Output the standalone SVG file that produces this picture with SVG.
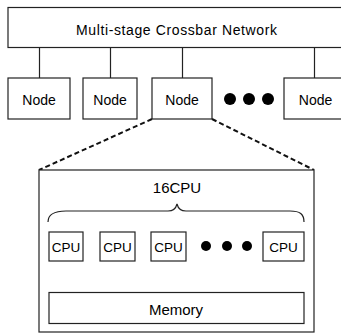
<svg xmlns="http://www.w3.org/2000/svg" width="341" height="333" viewBox="0 0 341 333">
<style>
.box{fill:#fff;stroke:#222;stroke-width:1.2}
.ln{stroke:#222;stroke-width:1.2;fill:none}
.dash{stroke:#111;stroke-width:2;stroke-dasharray:5 3;fill:none}
text{font-family:"Liberation Sans",Arial,sans-serif;font-size:14px;fill:#000;text-anchor:middle}
.sm{font-size:13.5px}
.dot{fill:#000}
</style>
<rect width="341" height="333" fill="#fff"/>
<g id="connectors">
<path class="ln" d="M39.5,47.5V78 M110.5,47.5V78 M182.5,47.5V78 M314.5,47.5V78"/>
<path class="dash" d="M152,119 L39,170 M212,119 L314,170"/>
<path class="ln" d="M69.5,261V292 M120.5,261V292 M171.5,261V292 M284.5,261V292"/>
</g>
<g id="network"><rect class="box" x="8" y="7.5" width="340" height="40"/><text x="176.5" y="35" textLength="201" lengthAdjust="spacing">Multi-stage Crossbar Network</text></g>
<g id="node1"><rect class="box" x="8" y="78" width="62" height="41"/><text x="39" y="105">Node</text></g>
<g id="node2"><rect class="box" x="83" y="78" width="54" height="41"/><text x="110" y="105">Node</text></g>
<g id="node3"><rect class="box" x="152" y="78" width="60" height="41"/><text x="182" y="105">Node</text></g>
<g id="dots1"><circle class="dot" cx="230" cy="99" r="6"/><circle class="dot" cx="249" cy="99" r="6"/><circle class="dot" cx="268" cy="99" r="6"/></g>
<g id="node4"><rect class="box" x="284" y="78" width="64" height="41"/><text x="315.5" y="105">Node</text></g>
<g id="nodeDetail">
<rect class="box" x="39" y="170" width="275" height="162"/>
<text x="177" y="193" style="font-size:15px">16CPU</text>
<path class="ln" d="M48,222 C48,214 54,211 66,211 L168,211 C173,211 176,208 177,204 C178,208 181,211 186,211 L290,211 C300,211 304,214 304,222"/>
</g>
<g id="cpu1"><rect class="box" x="49" y="232" width="34" height="29"/><text class="sm" x="66" y="251.5">CPU</text></g>
<g id="cpu2"><rect class="box" x="100" y="232" width="35" height="29"/><text class="sm" x="117.5" y="251.5">CPU</text></g>
<g id="cpu3"><rect class="box" x="151" y="232" width="35" height="29"/><text class="sm" x="168.5" y="251.5">CPU</text></g>
<g id="dots2"><circle class="dot" cx="206" cy="246" r="5"/><circle class="dot" cx="227" cy="246" r="5"/><circle class="dot" cx="247" cy="246" r="5"/></g>
<g id="cpu4"><rect class="box" x="263" y="232" width="41" height="29"/><text class="sm" x="283.5" y="251.5">CPU</text></g>
<g id="memory"><rect class="box" x="49" y="292.5" width="255" height="31"/><text x="176" y="315" style="font-size:15px">Memory</text></g>
</svg>
